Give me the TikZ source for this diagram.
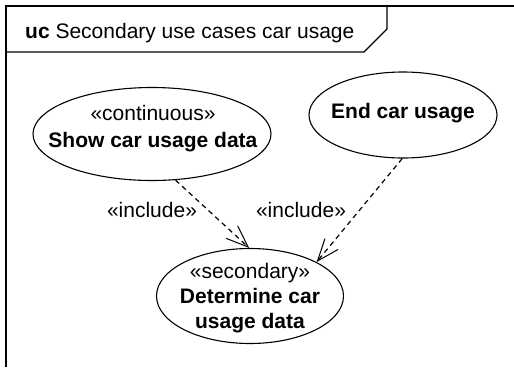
\documentclass[tikz,border=0pt]{standalone}
\usepackage{fontspec}
\setmainfont{Liberation Sans}
\usetikzlibrary{shapes.geometric,arrows.meta}
\begin{document}
\begin{tikzpicture}[x=1pt,y=-1pt,
  uc/.style={draw,ellipse,line width=1.1pt,inner sep=0pt},
  txt/.style={anchor=base,inner sep=0pt,font=\fontsize{21}{25}\selectfont},
  inc/.style={line width=1.2pt,dash pattern=on 5pt off 4pt,
    -{Straight Barb[length=22pt,width=17pt,line width=1pt]}}]
\useasboundingbox (0,0) rectangle (514,367);
% frame
\draw[line width=1.5pt] (6,367) -- (6,6) -- (514,6);
\draw[line width=1.2pt] (6,52) -- (364,52) -- (387,29) -- (387,6);
\node[txt,anchor=base west] (title) at (25,38) {\textbf{uc} Secondary use cases car usage};
% use cases
\node[uc,minimum width=238pt,minimum height=93pt] (e1) at (152,134) {};
\node[uc,minimum width=188pt,minimum height=86pt] (e2) at (403,115) {};
\node[uc,minimum width=187pt,minimum height=95pt] (e3) at (250,296) {};
\node[txt] (e1s) at (153,120) {«continuous»};
\node[txt] (e1n) at (153,147) {\textbf{Show car usage data}};
\node[txt] (e2n) at (403,118) {\textbf{End car usage}};
\node[txt] (e3s) at (250,278) {«secondary»};
\node[txt] (e3n1) at (250,303) {\textbf{Determine car}};
\node[txt] (e3n2) at (250,328) {\textbf{usage data}};
% include relations
\draw[inc] (e1.-63) -- (e3.91);
\draw[inc] (e2.-91) -- (e3.27);
\node[txt] (l1) at (152,217) {«include»};
\node[txt] (l2) at (301,217) {«include»};
\end{tikzpicture}
\end{document}
